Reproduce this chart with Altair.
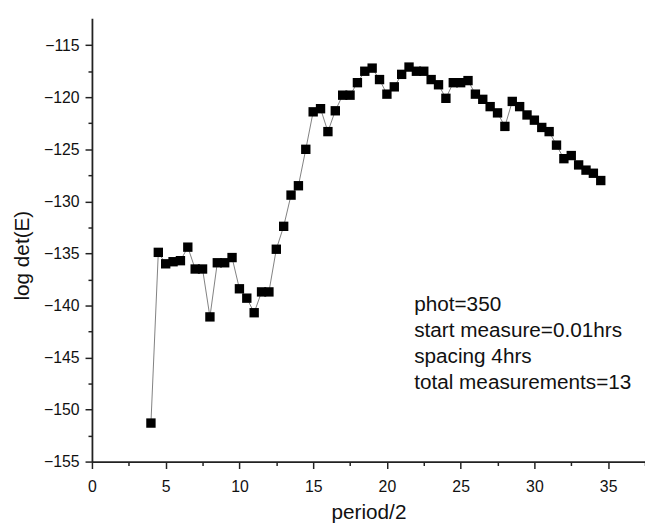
import altair as alt
import pandas as pd

period_half = [4.0, 4.5, 5.0, 5.5, 6.0, 6.5, 7.0, 7.5, 8.0, 8.5, 9.0, 9.5,
               10.0, 10.5, 11.0, 11.5, 12.0, 12.5, 13.0, 13.5, 14.0, 14.5,
               15.0, 15.5, 16.0, 16.5, 17.0, 17.5, 18.0, 18.5, 19.0, 19.5,
               20.0, 20.5, 21.0, 21.5, 22.0, 22.5, 23.0, 23.5, 24.0, 24.5,
               25.0, 25.5, 26.0, 26.5, 27.0, 27.5, 28.0, 28.5, 29.0, 29.5,
               30.0, 30.5, 31.0, 31.5, 32.0, 32.5, 33.0, 33.5, 34.0, 34.5]
log_det = [-151.3, -134.9, -136.0, -135.8, -135.7, -134.4, -136.5, -136.5,
           -141.1, -135.9, -135.9, -135.4, -138.4, -139.3, -140.7, -138.7,
           -138.7, -134.6, -132.4, -129.4, -128.5, -125.0, -121.4, -121.1,
           -123.3, -121.3, -119.8, -119.8, -118.6, -117.5, -117.2, -118.3,
           -119.7, -119.0, -117.8, -117.1, -117.5, -117.5, -118.3, -118.8,
           -120.1, -118.6, -118.6, -118.4, -119.7, -120.2, -120.9, -121.5,
           -122.8, -120.4, -120.9, -121.7, -122.2, -122.9, -123.3, -124.6,
           -125.9, -125.6, -126.5, -127.0, -127.3, -128.0]

x_major = [0, 5, 10, 15, 20, 25, 30, 35]
x_minor = [2.5, 7.5, 12.5, 17.5, 22.5, 27.5, 32.5, 37.5]
y_major = [-155, -150, -145, -140, -135, -130, -125, -120, -115]
y_minor = [-152.5, -147.5, -142.5, -137.5, -132.5, -127.5, -122.5, -117.5]

annotation_lines = ["phot=350", "start measure=0.01hrs", "spacing 4hrs",
                    "total measurements=13"]
annot_x = [21.85]
annot_y = [-138.9]

FONT = "Liberation Sans"
AX = "#222222"
TXT = "#111111"

df = pd.DataFrame({"x": period_half, "y": log_det})
df_text = pd.DataFrame({"x": annot_x, "y": annot_y, "t": [annotation_lines]})

xscale = alt.Scale(domain=[0, 37.5], nice=False, zero=False)
yscale = alt.Scale(domain=[-155, -112.4], nice=False, zero=False)

major_x = alt.Axis(values=x_major, title="period/2", orient="bottom", grid=False,
                   tickSize=7, tickWidth=1.5, tickColor=AX, domainColor=AX,
                   domainWidth=1.8, labelFontSize=16, labelFont=FONT,
                   labelColor=TXT, labelPadding=10, labelFlush=False,
                   titleFont=FONT, titleFontSize=21, titleFontWeight="normal",
                   titleColor=TXT, titleY=58, titleBaseline="alphabetic")
minor_x = alt.Axis(values=x_minor, title=None, orient="bottom", grid=False,
                   labels=False, domain=False, tickSize=4, tickWidth=1.5,
                   tickColor=AX)
major_y = alt.Axis(values=y_major, title="log det(E)", orient="left", grid=False,
                   tickSize=7, tickWidth=1.5, tickColor=AX, domainColor=AX,
                   domainWidth=1.8, labelFontSize=16, labelFont=FONT,
                   labelColor=TXT, labelPadding=6, labelFlush=False,
                   titleFont=FONT, titleFontSize=21, titleFontWeight="normal",
                   titleColor=TXT, titleX=-70, titleY=240,
                   titleBaseline="middle", titleAlign="center", titleAngle=270)
minor_y = alt.Axis(values=y_minor, title=None, orient="left", grid=False,
                   labels=False, domain=False, tickSize=4, tickWidth=1.5,
                   tickColor=AX)

base = alt.Chart(df)

line = base.mark_line(color="#808080", strokeWidth=1).encode(
    x=alt.X("x:Q", scale=xscale, axis=major_x),
    y=alt.Y("y:Q", scale=yscale, axis=major_y),
)

points = base.mark_point(shape="square", filled=True, size=90, color="#000000",
                         opacity=1).encode(
    x=alt.X("x:Q", scale=xscale, axis=minor_x),
    y=alt.Y("y:Q", scale=yscale, axis=minor_y),
)

text = alt.Chart(df_text).mark_text(align="left", baseline="top", font=FONT,
                                    fontSize=21, lineHeight=26.5,
                                    color=TXT).encode(
    x=alt.X("x:Q", scale=xscale, axis=None),
    y=alt.Y("y:Q", scale=yscale, axis=None),
    text="t",
)

chart = alt.layer(line, points, text).resolve_axis(
    x="independent", y="independent"
).properties(
    width=560, height=449,
    autosize=alt.AutoSizeParams(type="none"),
    padding={"left": 85, "top": 7, "right": 0, "bottom": 66},
    background="white",
).configure_view(stroke=None)

chart.save("out.html", embed_options={"renderer": "svg", "actions": False})
